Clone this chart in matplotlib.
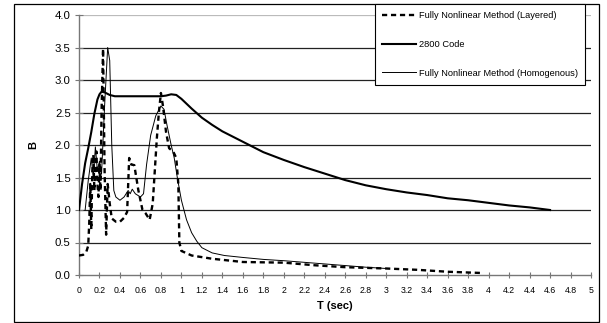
import matplotlib
matplotlib.use("Agg")
import matplotlib.pyplot as plt
from matplotlib.patches import Rectangle

plt.rcParams['font.family'] = ['Liberation Sans', 'DejaVu Sans']

# 2800 Code
T_code = [0, 0.03, 0.06, 0.09, 0.12, 0.15, 0.18, 0.2, 0.22, 0.25, 0.3, 0.35, 0.4, 0.5, 0.6, 0.7,
          0.8, 0.85, 0.9, 0.95, 1.0, 1.1, 1.2, 1.3, 1.4, 1.5, 1.6, 1.7, 1.8, 2.0, 2.2, 2.4,
          2.5, 2.6, 2.8, 3.0, 3.2, 3.4, 3.6, 3.8, 4.0, 4.2, 4.4, 4.6]
B_code = [1.0, 1.4, 1.72, 1.95, 2.2, 2.48, 2.7, 2.78, 2.82, 2.81, 2.77, 2.75, 2.75, 2.75, 2.75, 2.75,
          2.75, 2.76, 2.78, 2.77, 2.71, 2.56, 2.42, 2.31, 2.21, 2.13, 2.05, 1.97, 1.89, 1.77, 1.66, 1.56,
          1.51, 1.46, 1.38, 1.32, 1.27, 1.23, 1.18, 1.15, 1.11, 1.07, 1.04, 1.0]

# Fully Nonlinear Method (Homogenous)
T_hom = [0.06, 0.09, 0.12, 0.14, 0.16, 0.18, 0.2, 0.22, 0.25, 0.28, 0.3, 0.32, 0.34, 0.36, 0.4,
         0.44, 0.48, 0.5, 0.52, 0.55, 0.6, 0.63, 0.66, 0.7, 0.75, 0.8, 0.83, 0.86, 0.9, 0.93,
         0.96, 1.0, 1.05, 1.1, 1.15, 1.2, 1.3, 1.42, 1.6, 1.8, 2.0, 2.4, 2.8, 3.0]
B_hom = [1.0, 1.45, 1.8, 1.5, 1.97, 1.6, 1.75, 1.55, 2.6, 3.5, 3.3, 2.0, 1.3, 1.2, 1.15,
         1.2, 1.3, 1.25, 1.32, 1.25, 1.2, 1.25, 1.7, 2.15, 2.45, 2.6, 2.55, 2.3, 2.0, 1.8,
         1.5, 1.15, 0.85, 0.65, 0.52, 0.42, 0.34, 0.3, 0.27, 0.24, 0.22, 0.17, 0.12, 0.1]

# Fully Nonlinear Method (Layered)
T_lay = [0, 0.04, 0.07, 0.09, 0.1, 0.11, 0.12, 0.13, 0.14, 0.15, 0.16, 0.17, 0.18, 0.19, 0.2,
         0.21, 0.22, 0.235, 0.25, 0.265, 0.28, 0.3, 0.32, 0.36, 0.4, 0.44, 0.47, 0.49, 0.51, 0.54,
         0.58, 0.62, 0.65, 0.69, 0.72, 0.74, 0.76, 0.78, 0.8, 0.82, 0.85, 0.88, 0.92, 0.95, 0.97,
         0.98, 1.0, 1.1, 1.3, 1.6, 2.0, 2.3, 2.6, 3.0, 3.3, 3.6, 3.95]
B_lay = [0.3, 0.31, 0.35, 0.45, 0.8, 1.4, 0.7, 1.6, 1.85, 1.3, 1.7, 1.9, 1.4, 1.2, 1.7,
         1.3, 2.5, 3.48, 1.6, 0.62, 1.4, 1.1, 0.87, 0.82, 0.82, 0.88, 0.97, 1.8, 1.7, 1.69,
         1.3, 1.0, 0.95, 0.85, 1.1, 1.6, 2.1, 2.5, 2.8, 2.6, 2.2, 1.95, 1.9, 1.8, 1.4,
         0.5, 0.37, 0.3, 0.25, 0.2, 0.19, 0.15, 0.12, 0.1, 0.08, 0.05, 0.03]

x_ticks = [round(0.2 * i, 1) for i in range(26)]
x_labels = ['0', '0.2', '0.4', '0.6', '0.8', '1', '1.2', '1.4', '1.6', '1.8', '2', '2.2', '2.4',
            '2.6', '2.8', '3', '3.2', '3.4', '3.6', '3.8', '4', '4.2', '4.4', '4.6', '4.8', '5']
y_ticks = [0.0, 0.5, 1.0, 1.5, 2.0, 2.5, 3.0, 3.5, 4.0]

fig = plt.figure(figsize=(6.07, 3.23), dpi=100)
ax = fig.add_axes([79 / 607, 48 / 323, 512 / 607, 260 / 323])

for y in y_ticks[1:]:
    ax.axhline(y, color='#bbbbbb' if y == 4.0 else '#222222', lw=0.9, zorder=1)

l1, = ax.plot(T_lay, B_lay, color='black', lw=1.7, linestyle=(0, (2.2, 1.6)), zorder=3)
l2, = ax.plot(T_code, B_code, color='black', lw=1.5, zorder=3)
l3, = ax.plot(T_hom, B_hom, color='black', lw=0.7, zorder=3)

ax.set_xlim(0, 5)
ax.set_ylim(0, 4.0)
ax.set_xticks(x_ticks)
ax.set_xticklabels(x_labels, fontsize=6.3)
ax.set_yticks(y_ticks)
ax.set_yticklabels([f'{v:.1f}' for v in y_ticks], fontsize=8.2)
ax.tick_params(axis='x', direction='inout', length=4, width=0.8, color='#777777', pad=6)
ax.tick_params(axis='y', direction='inout', length=6, width=0.8, color='#777777', pad=3)
for s in ['top', 'right']:
    ax.spines[s].set_visible(False)
for s in ['left', 'bottom']:
    ax.spines[s].set_color('#777777')
    ax.spines[s].set_linewidth(1.0)
ax.set_xlabel('T (sec)', fontsize=8, fontweight='bold', labelpad=4)
ax.set_ylabel('B', fontsize=8, fontweight='bold', labelpad=12)

leg = fig.legend([l1, l2, l3],
                 ['Fully Nonlinear Method (Layered)', '2800 Code', 'Fully Nonlinear Method (Homogenous)'],
                 loc='upper left', bbox_to_anchor=(375 / 607, 1 - 4 / 323), bbox_transform=fig.transFigure,
                 fontsize=6.7, frameon=True, fancybox=False, edgecolor='black', framealpha=1,
                 handlelength=3.6, labelspacing=2.1, borderaxespad=0, borderpad=0.8, handletextpad=0.3)
leg.get_frame().set_linewidth(0.8)
leg.set_zorder(5)

fig.patches.append(Rectangle((14 / 607, 1 / 323), 585 / 607, 318 / 323, transform=fig.transFigure,
                             fill=False, edgecolor='black', lw=0.9))

fig.savefig('out.png', dpi=100)
